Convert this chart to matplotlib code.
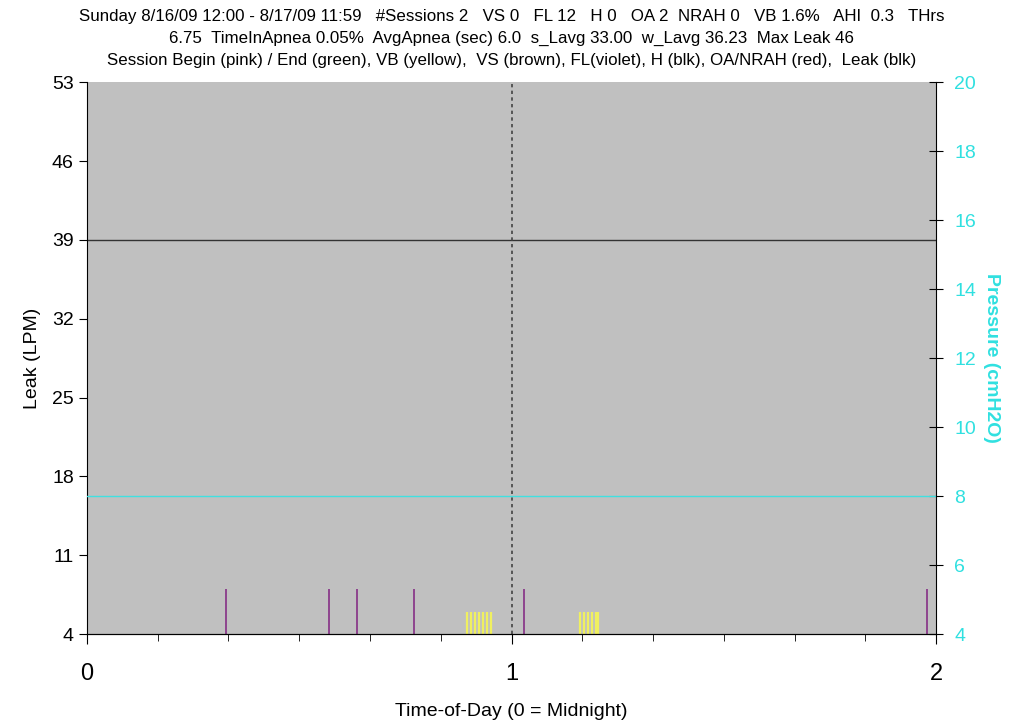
import matplotlib
matplotlib.use("Agg")
import matplotlib.pyplot as plt
import numpy as np

plt.rcParams['font.family'] = ['Liberation Sans', 'DejaVu Sans']

# data
fl_times = [0.327, 0.570, 0.636, 0.770, 1.029, 1.979]
fl_height = 8
vb_times = [0.895, 0.905, 0.914, 0.923, 0.933, 0.942, 0.952,
            1.161, 1.171, 1.180, 1.190, 1.199, 1.204]
vb_height = 6
leak_avg = 39
pressure = 8
midnight = 1

leak_ticks = [4, 11, 18, 25, 32, 39, 46, 53]
press_ticks = [4, 6, 8, 10, 12, 14, 16, 18, 20]

title = ("Sunday 8/16/09 12:00 - 8/17/09 11:59   #Sessions 2   VS 0   FL 12   H 0   OA 2  NRAH 0   VB 1.6%   AHI  0.3   THrs\n"
         "6.75  TimeInApnea 0.05%  AvgApnea (sec) 6.0  s_Lavg 33.00  w_Lavg 36.23  Max Leak 46\n"
         "Session Begin (pink) / End (green), VB (yellow),  VS (brown), FL(violet), H (blk), OA/NRAH (red),  Leak (blk)")

fig = plt.figure(figsize=(10.23, 7.28), dpi=100)
ax = fig.add_axes([0.085, 0.129, 0.83, 0.758])
ax.set_facecolor('#c0c0c0')

ax.vlines(vb_times, 4, vb_height, color='#f0f060', lw=1.6)
ax.vlines(fl_times, 4, fl_height, color='#8a3a8a', lw=1.3)
ax.axhline(leak_avg, color='#333333', lw=1)
ax.axvline(midnight, color='#444444', lw=1.2, ls=(0, (2, 2)))

ax.set_xlim(0, 2)
ax.set_ylim(4, 53)
ax.set_yticks(leak_ticks)
ax.set_xticks([0, 1, 2])
ax.set_xticks(np.arange(0, 2.01, 1/6), minor=True)
ax.tick_params(axis='x', which='major', labelsize=17, length=7, direction='out', pad=14)
ax.tick_params(axis='x', which='minor', length=5, direction='out')
ax.tick_params(axis='y', labelsize=14, length=6, direction='out')
ax.spines['top'].set_visible(False)
ax.spines['right'].set_visible(False)
ax.set_ylabel('Leak (LPM)', fontsize=14, labelpad=8)
ax.set_xlabel('Time-of-Day (0 = Midnight)', fontsize=14, labelpad=13)

ax2 = ax.twinx()
ax2.set_ylim(4, 20)
ax2.set_yticks(press_ticks)
ax2.axhline(pressure, color='#40e0e0', lw=1)
ax2.tick_params(axis='y', labelsize=14, labelcolor='#30e0e0', length=10, direction='inout', pad=8)
ax2.spines['top'].set_visible(False)
ax2.spines['left'].set_visible(False)
ax2.set_ylabel('Pressure (cmH2O)', fontsize=14, color='#30e0e0', fontweight='bold', rotation=-90, labelpad=17)

fig.text(0.5, 0.988, title, ha='center', va='top', fontsize=12.2, linespacing=1.6)

fig.savefig('out.png', dpi=100)
